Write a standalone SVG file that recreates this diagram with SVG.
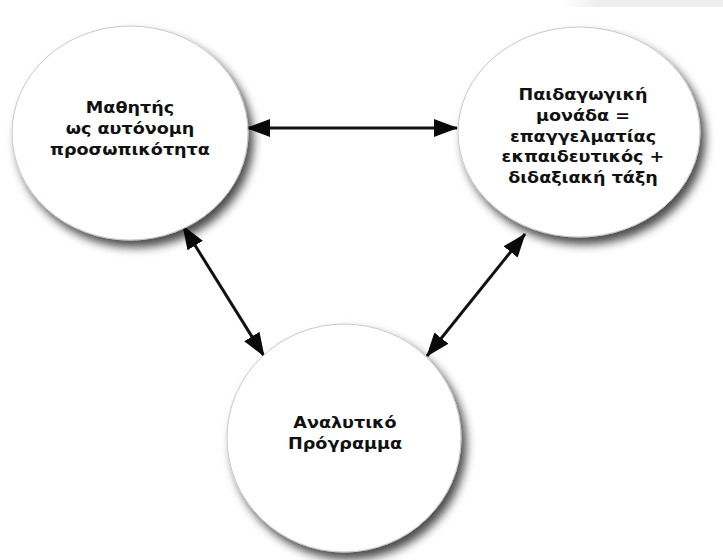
<svg xmlns="http://www.w3.org/2000/svg" width="723" height="560" viewBox="0 0 723 560">
  <style>
    .bubble { fill: #ffffff; stroke: #c4c8cc; stroke-width: 1; filter: url(#shade); }
    .label { font-family: "DejaVu Sans", Verdana, sans-serif; font-weight: bold; font-size: 16px; fill: #111111; text-anchor: middle; }
    .link { stroke: #111111; stroke-width: 3; fill: none; marker-start: url(#head); marker-end: url(#head); }
  </style>
  <defs>
    <filter id="shade" x="-20%" y="-20%" width="150%" height="150%">
      <feDropShadow dx="5" dy="7" stdDeviation="5" flood-color="#000000" flood-opacity="0.7"/>
    </filter>
    <linearGradient id="strip" x1="0" y1="0" x2="1" y2="0">
      <stop offset="0" stop-color="#f0f0f0" stop-opacity="0"/>
      <stop offset="0.25" stop-color="#ededed"/>
      <stop offset="1" stop-color="#ededed"/>
    </linearGradient>
    <marker id="head" viewBox="0 0 24 18" markerWidth="24" markerHeight="18" refX="23" refY="9" orient="auto-start-reverse" markerUnits="userSpaceOnUse">
      <path d="M0,0 L24,9 L0,18 z" fill="#0a0a0a"/>
    </marker>
  </defs>

  <rect width="723" height="560" fill="#ffffff"/>
  <!-- faint strip along the top right edge -->
  <rect x="560" y="0" width="163" height="7" fill="url(#strip)"/>

  <g id="connectors">
    <line class="link" x1="247" y1="128" x2="457" y2="128"/>
    <line class="link" x1="183" y1="226" x2="264" y2="356"/>
    <line class="link" x1="525" y1="234" x2="427" y2="356"/>
  </g>

  <g id="node-student">
    <ellipse class="bubble" cx="130" cy="133" rx="118" ry="107"/>
    <g transform="matrix(1.1,0,0,1,-13,0)">
      <text class="label" x="130" y="113">Μαθητής</text>
      <text class="label" x="130" y="134">ως αυτόνομη</text>
      <text class="label" x="130" y="155">προσωπικότητα</text>
    </g>
  </g>

  <g id="node-school">
    <ellipse class="bubble" cx="579" cy="132" rx="121" ry="105"/>
    <g transform="matrix(1.1,0,0,1,-58.3,0)">
      <text class="label" x="583" y="100">Παιδαγωγική</text>
      <text class="label" x="583" y="121">μονάδα =</text>
      <text class="label" x="583" y="142">επαγγελματίας</text>
      <text class="label" x="583" y="162">εκπαιδευτικός +</text>
      <text class="label" x="583" y="183">διδαξιακή τάξη</text>
    </g>
  </g>

  <g id="node-curriculum">
    <ellipse class="bubble" cx="344" cy="438" rx="117" ry="114"/>
    <g transform="matrix(1.1,0,0,1,-34.5,0)">
      <text class="label" x="345" y="428">Αναλυτικό</text>
      <text class="label" x="345" y="449">Πρόγραμμα</text>
    </g>
  </g>
</svg>
